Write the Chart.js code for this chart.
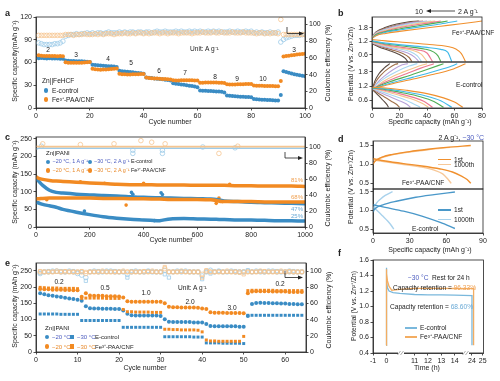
<!DOCTYPE html>
<html><head><meta charset="utf-8">
<script src="https://cdn.jsdelivr.net/npm/chart.js"></script>
<style>
html,body{margin:0;padding:0;background:#fff;}
body{width:500px;height:381px;position:relative;overflow:hidden;font-family:'Liberation Sans',Arial,sans-serif;color:#222;}
canvas{position:absolute;left:0;top:0;}
.t{position:absolute;white-space:nowrap;line-height:1;}
.m{position:absolute;}
svg{position:absolute;left:0;top:0;}
</style></head><body>
<script>
const FONT="'Liberation Sans', Arial, sans-serif";
const BLUE='#3a8cc4', ORANGE='#f28a22', LBLUE='#9ecbe8', LORANGE='#f6c590', TB='#4b5bbf';

// ---------- panel a : Zn||FeHCF rate test (cycles 1..100) ----------
const aCapE=[65.5,65.8,65.6,65.4,65.5,65.3,65.2,65.4,65.1,65.0,
62.5,62.3,62.1,62.0,61.8,61.6,61.5,61.3,61.0,60.6,
57.0,56.8,56.5,56.2,55.8,55.5,55.2,55.0,54.6,54.2,
49.0,48.5,48.2,47.8,47.5,47.0,46.6,46.2,45.8,45.2,
40.2,39.8,39.4,39.0,38.6,38.2,37.8,37.4,37.0,36.4,
32.6,32.0,31.5,31.0,30.5,30.0,29.5,29.0,28.3,27.5,
23.2,22.9,22.7,22.5,22.3,22.1,21.9,21.6,21.3,20.6,
16.6,16.1,15.8,15.5,15.3,15.0,14.8,14.6,14.4,14.2,
11.8,11.5,11.2,11.0,10.8,10.6,10.4,10.2,10.0,9.8,
17.0,48.5,47.4,46.4,45.5,44.6,43.8,43.1,42.5,42.0];
const aCapFe=[69.5,68.9,68.7,68.6,68.5,68.6,68.5,68.4,68.5,68.2,
60.2,59.8,59.7,59.6,59.6,59.7,59.8,60.0,60.2,60.5,
51.6,51.0,50.8,50.6,50.7,50.9,51.2,51.5,51.8,52.2,
45.2,44.6,44.4,44.3,44.3,44.4,44.5,44.6,44.8,45.0,
40.2,39.6,39.3,39.0,38.8,38.6,38.4,38.2,38.0,37.6,
36.6,36.4,36.4,36.5,36.6,36.7,36.6,36.5,36.4,36.2,
33.2,33.3,33.5,33.6,33.7,33.6,33.5,33.4,33.2,33.0,
31.3,31.0,31.0,31.1,31.2,31.3,31.4,31.5,31.6,31.7,
29.6,29.4,29.3,29.2,29.1,29.0,28.9,28.9,28.8,28.7,
35.6,67.8,68.5,69.0,69.5,70.0,70.4,70.8,71.1,71.4];
const aCEE=[78,77,76,76,76,76,77,77,78,80,
86,87,88,88,89,88,89,89,90,89,
90,89,90,90,89,90,91,90,90,90,
91,90,91,90,91,91,90,91,91,90,
91,91,90,91,92,91,91,92,91,91,
91,92,91,92,91,91,92,91,92,91,
92,91,91,92,91,92,91,92,91,91,
91,92,91,91,92,91,91,92,91,92,
90,91,90,91,90,90,91,90,90,91,
79,82,84,85,86,87,87,87,88,88];
const aCEFe=[87,87,87,87,87,87,87,87,87,87,
88,88,88,87,88,88,88,89,88,88,
88,89,88,89,88,89,89,89,88,89,
89,89,90,89,89,90,89,90,90,89,
90,89,90,90,90,89,90,90,89,90,
90,90,89,90,90,90,90,89,90,90,
90,91,90,90,90,91,90,90,91,90,
90,90,91,90,90,90,91,90,90,90,
90,89,90,90,89,90,89,90,90,89,
106,88,88,88,88,88,88,88,88,88];

// ---------- panel b : GCD curves, 2..10 A g-1 ----------
const bColors=['#f0902e','#3fb9e8','#4fae55','#ec7790','#f6c48c','#a6d6f0','#b6a1d8','#a0704a','#5a4a42'];
const bFeCharge=[
[[0,1.33],[3,1.45],[10,1.55],[20,1.64],[35,1.76],[50,1.87],[65,1.98],[80,2.1]],
[[0,1.33],[3,1.47],[10,1.6],[20,1.7],[35,1.84],[50,1.97],[62,2.1]],
[[0,1.34],[3,1.5],[10,1.63],[20,1.75],[35,1.9],[48,2.03],[55,2.1]],
[[0,1.35],[3,1.52],[10,1.66],[20,1.8],[35,1.96],[50,2.1]],
[[0,1.36],[3,1.54],[10,1.69],[20,1.84],[32,1.98],[46,2.1]],
[[0,1.37],[3,1.56],[10,1.72],[20,1.88],[30,2.0],[43,2.1]],
[[0,1.38],[3,1.58],[10,1.75],[20,1.92],[30,2.04],[40,2.1]],
[[0,1.39],[3,1.6],[10,1.78],[20,1.95],[28,2.05],[37,2.1]],
[[0,1.4],[3,1.62],[10,1.82],[18,1.97],[26,2.06],[34,2.1]]];
const bFeDis=[
[[0,1.28],[10,1.22],[25,1.15],[40,1.07],[55,0.97],[61,0.86],[65,0.65],[68,0.3]],
[[0,1.22],[10,1.12],[25,1.02],[40,0.93],[50,0.84],[55,0.72],[58,0.3]],
[[0,1.2],[10,1.08],[25,0.97],[38,0.86],[45,0.72],[48,0.55],[50,0.3]],
[[0,1.18],[10,1.04],[22,0.93],[33,0.82],[40,0.68],[44,0.3]],
[[0,1.16],[8,1.03],[18,0.92],[30,0.79],[36,0.62],[40,0.3]],
[[0,1.15],[8,1.0],[18,0.88],[28,0.74],[33,0.55],[36,0.3]],
[[0,1.13],[8,0.97],[17,0.84],[26,0.68],[31,0.5],[34,0.3]],
[[0,1.12],[6,0.97],[14,0.83],[22,0.67],[27,0.48],[29,0.3]],
[[0,1.1],[5,0.95],[12,0.8],[19,0.64],[24,0.45],[26,0.3]]];
const bEcCharge=[
[[0,1.05],[5,1.15],[15,1.3],[30,1.5],[45,1.7],[58,1.9],[68,2.15]],
[[0,1.05],[5,1.17],[15,1.35],[30,1.58],[45,1.82],[58,2.05],[62,2.15]],
[[0,1.04],[5,1.2],[15,1.42],[28,1.66],[40,1.9],[52,2.15]],
[[0,1.04],[5,1.23],[15,1.5],[25,1.72],[35,1.95],[45,2.15]],
[[0,1.03],[5,1.27],[12,1.52],[22,1.78],[32,2.0],[40,2.15]],
[[0,1.03],[4,1.3],[10,1.56],[18,1.82],[27,2.05],[33,2.15]],
[[0,1.02],[4,1.35],[9,1.62],[15,1.88],[22,2.1],[26,2.15]],
[[0,1.02],[3,1.4],[7,1.7],[12,1.95],[17,2.12],[19,2.15]],
[[0,1.0],[2,1.4],[5,1.72],[9,1.97],[13,2.15]]];
const bEcDis=[
[[0,1.15],[10,1.12],[25,1.02],[40,0.88],[52,0.7],[60,0.52],[66,0.3]],
[[0,1.13],[10,1.08],[25,0.95],[38,0.8],[50,0.58],[58,0.3]],
[[0,1.12],[10,1.05],[22,0.92],[35,0.75],[45,0.55],[52,0.3]],
[[0,1.12],[8,1.03],[20,0.88],[30,0.72],[38,0.55],[44,0.3]],
[[0,1.11],[8,1.0],[18,0.84],[28,0.67],[36,0.48],[41,0.3]],
[[0,1.1],[6,0.98],[14,0.82],[22,0.66],[29,0.48],[35,0.3]],
[[0,1.1],[5,0.95],[12,0.78],[19,0.6],[25,0.44],[28,0.3]],
[[0,1.08],[4,0.92],[9,0.74],[14,0.56],[18,0.42],[20,0.3]],
[[0,1.06],[3,0.9],[6,0.72],[9,0.54],[11,0.4],[12,0.3]]];

// ---------- panel c : long cycling Zn||PANI ----------
const cX=[1,10,25,50,75,100,150,200,250,300,350,400,450,460,500,550,600,650,670,690,700,750,800,850,900,950,1000];
const cFe20=[142,138,135,132,130,129,127,125,123,121,120,120,119,119,119,119,118,118,118,118,118,117,117,116,116,116,115];
const cEc20=[138,130,118,104,98,96,93,91,89,88,86,84,83,83,82,81,80,79,78,75,74,72,70,69,68,67,66];
const cFe30=[80,80,81,82,82,82,82,82,81,81,80,80,79,79,78,78,78,77,75,72,72,72,72,71,71,71,71];
const cEc30=[70,68,64,60,56,50,42,35,29,25,22,20,18,18,23,24,23,22,22,21,21,20,20,19,18,18,17];
const cCEFe=[101,100.5,100.5,100.5,100.5,100.5,100.5,100.5,100.5,100.5,100.5,100.5,100.5,100.5,100.5,100.5,100.5,100.5,100.5,100.5,100.5,100.5,100.5,100.5,100.5,100.5,100.5];
const cCEEc=[97,98.5,98.5,98.5,98.5,98.5,98.5,98.5,98.5,98.5,98.5,98.5,98.5,98.5,98.5,98.5,98.5,98.5,98.5,98.5,98.5,98.5,98.5,98.5,98.5,98.5,98.5];
const cOutE=[[180,45],[355,98],[360,93],[465,97],[470,92],[620,80],[440,18]];
const cOutFe=[[40,77],[165,128],[255,124],[335,62],[400,124],[670,67],[680,82],[720,121]];
const cCEOutE=[[20,101],[360,92],[360,96],[470,92],[470,96],[620,100],[740,99]];
const cCEOutFe=[[25,104],[165,103],[290,104],[390,108],[430,106],[480,104],[680,92],[750,101]];

// ---------- panel d : 1st / 1000th GCD at -30 C ----------
const dFe1stC=[[0,1.0],[1,1.06],[3,1.12],[8,1.2],[15,1.26],[30,1.34],[45,1.4],[60,1.45],[80,1.5]];
const dFe1stD=[[0,1.15],[10,1.09],[25,1.02],[40,0.96],[55,0.88],[65,0.8],[72,0.7],[77,0.6],[80,0.5]];
const dFe1000C=[[0,1.03],[2,1.1],[6,1.17],[15,1.25],[30,1.33],[45,1.39],[63,1.45]];
const dFe1000D=[[0,1.12],[10,1.07],[25,1.0],[40,0.93],[50,0.85],[57,0.75],[61,0.62],[64,0.5]];
const dEc1stC=[[0,0.95],[1,1.02],[3,1.08],[8,1.15],[20,1.25],[35,1.35],[50,1.42],[67,1.49]];
const dEc1stD=[[0,1.15],[10,1.08],[25,0.98],[40,0.85],[55,0.68],[67,0.52]];
const dEc1000C=[[0,0.97],[1,1.08],[3,1.2],[6,1.3],[10,1.4],[16,1.5]];
const dEc1000D=[[0,1.1],[4,0.98],[8,0.85],[12,0.72],[15,0.6],[17,0.5]];

// ---------- panel e : rate test at -20/-30 C (cycles 1..64) ----------
const eEc20=[181,178,175,173,171,169,167,165,163,161,
158,141,135,134,134,133,133,133,132,132,
128,118,113,112,112,112,112,112,112,111,
101,93,92,92,92,92,92,91,91,91,
86,80,79,79,79,79,79,79,78,78,
111,148,151,152,151,151,150,150,149,149,148,148,147,147];
const eEc30=[117,117,117,117,117,116,116,116,116,116,
97,97,97,97,97,97,97,97,97,97,
76,76,76,76,76,76,76,76,76,76,
47,47,47,47,47,47,47,46,46,46,
28,28,28,28,27,27,27,27,27,26,
113,113,113,113,113,113,113,113,113,113,113,113,113,113];
const eFe20=[194,193,193,192,192,192,191,191,190,190,
170,181,174,173,173,173,172,172,172,171,
168,156,155,155,155,155,155,155,155,155,
150,139,138,138,137,137,137,137,136,134,
132,122,121,121,121,120,120,120,120,119,
181,186,187,187,187,187,186,186,186,186,185,185,185,185];
const eFe30=[199,198,197,197,197,196,196,196,196,195,
165,166,166,166,166,166,165,165,165,165,
131,124,124,123,123,123,123,122,122,122,
70,70,69,69,68,68,68,68,67,62,
37,34,34,33,33,33,33,33,33,48,
189,190,190,190,190,190,190,189,189,189,189,189,189,189];
const eCEEc20=[97,99,99,100,100,99,99,100,99,97,
95,92,99,100,99,99,100,100,99,99,
99,96,99,100,99,99,100,99,99,99,
101,99,99,100,99,100,99,99,99,94,
99,101,99,100,99,99,100,99,99,99,
100,99,100,99,99,100,100,99,99,99,100,99,99,99];
const eCEEc30=[98,99,100,99,99,100,99,99,100,99,
99,88,99,99,100,99,99,99,100,99,
99,92,100,99,99,99,100,99,99,99,
96,92,99,99,100,99,99,99,99,90,
99,97,99,100,99,99,99,100,99,99,
101,99,99,100,99,99,99,100,99,99,99,100,99,99];
const eCEFe20=[99,99,99,99,100,99,99,99,99,99,
99,97,99,99,99,100,99,99,99,99,
100,99,99,99,99,99,99,100,99,99,
103,99,99,99,100,99,99,99,99,96,
100,99,99,99,99,100,99,99,99,99,
99,99,99,100,99,99,99,99,100,99,99,99,99,99];
const eCEFe30=[100,99,99,99,99,99,100,99,99,99,
100,99,99,99,99,99,99,99,99,99,
99,99,99,99,99,100,99,99,99,99,
105,99,99,99,99,99,99,99,99,92,
101,99,99,99,99,99,99,99,98,96,
99,99,99,99,100,99,99,99,99,99,100,99,99,99];

// ---------- panel f : 24 h rest (broken time axis) ----------
const fTimeFe=[0,0,0.02,0.08,0.2,0.4,0.7,1,11,12,13,14,24.15,24.15];
const fVFe=[0.5,1.48,1.42,1.33,1.26,1.21,1.215,1.22,1.233,1.233,1.233,1.232,1.23,0.5];
const fTimeE=[0,0,0.02,0.08,0.2,0.5,1,11,12,13,14,24,24];
const fVE=[0.5,1.5,1.32,1.24,1.2,1.18,1.17,1.155,1.15,1.15,1.148,1.14,0.5];
const fTickTimes=[-1,0,11,12,13,14,24,25];
// broken-axis mapping (time -> axis position)
const fBreakT=[-1,0,1,10.9,14.8,23.45,25], fBreakP=[0,1,2,3,6.9,6.95,8.19];
function fMap(t){for(let i=0;i<fBreakT.length-1;i++){if(t<=fBreakT[i+1])return fBreakP[i]+(t-fBreakT[i])*(fBreakP[i+1]-fBreakP[i])/(fBreakT[i+1]-fBreakT[i]);}return fBreakP[fBreakP.length-1];}

// ================= helpers =================
const body=document.body;
Chart.defaults.font.family=FONT;
function addCanvas(){const c=document.createElement('canvas');c.width=500;c.height=381;c.style.width='500px';c.style.height='381px';body.appendChild(c);return c;}
const frame={id:'frame',afterDraw(c){const a=c.chartArea,x=c.ctx;x.save();x.strokeStyle='#222';x.lineWidth=0.8;x.strokeRect(a.left,a.top,a.right-a.left,a.bottom-a.top);x.restore();}};
function axis(o,id,size){
  const isX=id==='x';
  return {type:'linear',position:isX?'bottom':(id==='y2'?'right':'left'),display:!o.hide,min:o.min,max:o.max,
    afterFit:s=>{if(isX)s.height=size;else s.width=size;},
    afterBuildTicks:s=>{s.ticks=(o.ticks||[]).map(v=>({value:v}));},
    ticks:{font:{family:FONT,size:7},color:'#222',padding:1.5,autoSkip:false,maxRotation:0,minRotation:0,
      callback:(v,i)=>o.labels?o.labels[i]:(o.dec!=null?Number(v).toFixed(o.dec):String(v))},
    grid:{drawOnChartArea:false,tickLength:2.5,color:'#222',tickColor:'#222',lineWidth:0.8},
    border:{display:true,color:'#222',width:0.8}};
}
function makeChart(rect,x,y,y2,datasets){
  const [L,T,R,B]=rect;const YW=19,Y2W=y2?19:0,XH=x.hide?0:12;
  const scales={x:axis(x,'x',XH),y:axis(y,'y',YW)};
  if(y2)scales.y2=axis(y2,'y2',Y2W);
  return new Chart(addCanvas(),{type:'line',data:{datasets},
    options:{responsive:false,animation:false,devicePixelRatio:1,events:[],
      layout:{padding:{left:L-YW,right:500-R-Y2W,top:T,bottom:381-B-XH}},
      plugins:{legend:{display:false},tooltip:{enabled:false}},scales},plugins:[frame]});
}
const seq=arr=>arr.map((v,i)=>({x:i+1,y:v}));
const zipXY=(xs,ys)=>xs.map((x,i)=>({x,y:ys[i]}));
function dots(data,color,o){return Object.assign({data,showLine:false,pointRadius:2,pointBackgroundColor:color,pointBorderColor:color,pointBorderWidth:0,borderColor:color,backgroundColor:color,yAxisID:'y'},o||{});}
function rings(data,color,o){return Object.assign({data,showLine:false,pointRadius:2.3,pointBackgroundColor:'rgba(255,255,255,0)',pointBorderColor:color,pointBorderWidth:0.8,borderColor:color,yAxisID:'y2'},o||{});}
function curve(data,color,w,o){return Object.assign({data,borderColor:color,borderWidth:w||1.1,pointRadius:0,cubicInterpolationMode:'monotone',yAxisID:'y'},o||{});}

// ================= charts =================
// a
makeChart([36,17,305,108],{min:0,max:100,ticks:[0,20,40,60,80,100]},{min:0,max:120,ticks:[0,30,60,90,120]},{min:0,max:109,ticks:[0,20,40,60,80,100]},[
  dots(seq(aCapFe),ORANGE),dots(seq(aCapE),BLUE),
  rings(seq(aCEFe),LORANGE),rings(seq(aCEE),LBLUE)]);
// b top / bottom
makeChart([372,17,482,62],{min:0,max:80,hide:true},{min:0.28,max:2.28,ticks:[0.6,1.2,1.8],dec:1},null,
  bFeDis.map((c,i)=>curve(c,bColors[i])).concat(bFeCharge.map((c,i)=>curve(c,bColors[i]))));
makeChart([372,62,482,108],{min:0,max:80,ticks:[0,20,40,60,80]},{min:0.27,max:2.22,ticks:[0.6,1.2,1.8],dec:1},null,
  bEcDis.map((c,i)=>curve(c,bColors[i])).concat(bEcCharge.map((c,i)=>curve(c,bColors[i]))));
// c
makeChart([36,137,305,227],{min:0,max:1000,ticks:[0,200,400,600,800,1000]},{min:0,max:255,ticks:[0,50,100,150,200,250]},{min:0,max:112.5,ticks:[0,20,40,60,80,100]},[
  curve(zipXY(cX,cFe20),ORANGE,3.5,{cubicInterpolationMode:'default',tension:0.3}),
  curve(zipXY(cX,cFe30),ORANGE,3.5,{cubicInterpolationMode:'default',tension:0.3}),
  curve(zipXY(cX,cEc20),BLUE,3.5,{cubicInterpolationMode:'default',tension:0.3}),
  curve(zipXY(cX,cEc30),BLUE,3.5,{cubicInterpolationMode:'default',tension:0.3}),
  dots(cOutFe.map(p=>({x:p[0],y:p[1]})),ORANGE,{pointRadius:1.8}),
  dots(cOutE.map(p=>({x:p[0],y:p[1]})),BLUE,{pointRadius:1.8}),
  curve(zipXY(cX,cCEFe),LORANGE,1.6,{yAxisID:'y2'}),
  curve(zipXY(cX,cCEEc),LBLUE,1.6,{yAxisID:'y2'}),
  rings(cCEOutFe.map(p=>({x:p[0],y:p[1]})),LORANGE),
  rings(cCEOutE.map(p=>({x:p[0],y:p[1]})),LBLUE)]);
// d top / bottom
makeChart([373,141,483,189],{min:0,max:90,hide:true},{min:0.35,max:1.62,ticks:[0.5,1.0,1.5],dec:1},null,[
  curve(dFe1stC,'#f0902e',1.4),curve(dFe1stD,'#f0902e',1.4),
  curve(dFe1000C,'#f7c898',1.4),curve(dFe1000D,'#f7c898',1.4)]);
makeChart([373,189,483,233],{min:0,max:90,ticks:[0,30,60,90]},{min:0.40,max:1.57,ticks:[0.5,1.0,1.5],dec:1},null,[
  curve(dEc1stC,'#4a98c9',1.4),curve(dEc1stD,'#4a98c9',1.4),
  curve(dEc1000C,'#a9d2ec',1.4),curve(dEc1000D,'#a9d2ec',1.4)]);
// e
makeChart([36,263,306,352],{min:0,max:65,ticks:[0,10,20,30,40,50,60]},{min:0,max:274,ticks:[0,50,100,150,200,250]},{min:0,max:110,ticks:[0,20,40,60,80,100]},[
  dots(seq(eFe20),ORANGE),dots(seq(eFe30),ORANGE,{pointStyle:'rect',pointRadius:2.1}),
  dots(seq(eEc20),BLUE),dots(seq(eEc30),BLUE,{pointStyle:'rect',pointRadius:2.1}),
  rings(seq(eCEFe20),LORANGE),rings(seq(eCEFe30),LORANGE,{pointStyle:'rect'}),
  rings(seq(eCEEc20),LBLUE),rings(seq(eCEEc30),LBLUE,{pointStyle:'rect'})]);
// f
makeChart([373,260,483.5,353],{min:0,max:8.25,ticks:fTickTimes.map(fMap),labels:fTickTimes.map(String)},{min:0.4,max:1.6,ticks:[0.4,0.6,0.8,1.0,1.2,1.4,1.6],dec:1},null,[
  curve(fTimeFe.map((t,i)=>({x:fMap(t),y:fVFe[i]})),'#f3ad62',1.3,{cubicInterpolationMode:'default',tension:0}),
  curve(fTimeE.map((t,i)=>({x:fMap(t),y:fVE[i]})),'#7ab8dc',1.3,{cubicInterpolationMode:'default',tension:0})]);

// ================= text & annotations =================
function T(x,y,html,o){o=o||{};const d=document.createElement('div');d.className='t';d.innerHTML=html;
  d.style.left=x+'px';d.style.top=y+'px';d.style.fontSize=(o.fs||6.6)+'px';
  if(o.b)d.style.fontWeight='bold';if(o.c)d.style.color=o.c;
  let tr=o.a==='c'?'translate(-50%,-50%)':o.a==='r'?'translate(-100%,-50%)':'translate(0,-50%)';
  if(o.rot)tr+=' rotate('+o.rot+'deg)';d.style.transform=tr;body.appendChild(d);return d;}
function M(x,y,color,sq){const d=document.createElement('div');d.className='m';
  d.style.cssText+='left:'+(x-2.1)+'px;top:'+(y-2.1)+'px;width:4.2px;height:4.2px;background:'+color+';border-radius:'+(sq?'0':'50%');body.appendChild(d);}
function Ln(x1,x2,y,color){const d=document.createElement('div');d.className='m';
  d.style.cssText+='left:'+x1+'px;top:'+(y-0.75)+'px;width:'+(x2-x1)+'px;height:1.5px;background:'+color;body.appendChild(d);}
const sp=(s,c)=>'<span style="color:'+c+'">'+s+'</span>';

// letters
[['a',5,13],['b',338,13],['c',5,137],['d',338,139],['e',5,263],['f',338,253]].forEach(l=>T(l[1],l[2],l[0],{fs:9,b:true}));
// axis titles
const YT='Specific capacity (mAh g⁻¹)', PT='Potential (V vs. Zn²⁺/Zn)', CT='Coulombic efficiency (%)';
T(14,61,'Specific capacity(mAh g⁻¹)',{a:'c',rot:-90,fs:7});
T(327,63,CT,{a:'c',rot:-90,fs:7});
T(170,121,'Cycle number',{a:'c',fs:7});
T(350,64,PT,{a:'c',rot:-90,fs:7});
T(430,121,YT,{a:'c',fs:7});
T(14,182,YT,{a:'c',rot:-90,fs:7});
T(327,188,CT,{a:'c',rot:-90,fs:7});
T(171,239,'Cycle number',{a:'c',fs:7});
T(350,187,PT,{a:'c',rot:-90,fs:7});
T(430,249,YT,{a:'c',fs:7});
T(14,306,YT,{a:'c',rot:-90,fs:7});
T(328,310,CT,{a:'c',rot:-90,fs:7});
T(145,367,'Cycle number',{a:'c',fs:7});
T(354,306,PT,{a:'c',rot:-90,fs:6.6});
T(427,367,'Time (h)',{a:'c',fs:7});

// a annotations
T(42,81,'Zn||FeHCF');
M(46,90.5,BLUE);T(52,90.5,'E-control');
M(46,99.5,ORANGE);T(52,99.5,'Fe³⁺-PAA/CNF');
[['2',48,50],['3',76,54.5],['4',108,59],['5',131,62.5],['6',159,70.5],['7',185,73],['8',215,77],['9',237,79],['10',263,79],['3',294,50]].forEach(l=>T(l[1],l[2],l[0],{a:'c'}));
T(190,49,'Unit: A g⁻¹');
// b annotations
T(419,11,'10',{a:'c',fs:7});T(458,11,'2 A g⁻¹',{fs:7});
T(452,33,'Fe³⁺-PAA/CNF');T(456,85,'E-control');
// c annotations
T(46,153,'Zn||PANI',{fs:6});
M(48,162,BLUE);T(52.5,162,sp('−20 °C, 1 A g⁻¹',TB),{fs:5.4});M(90,162,BLUE);T(94,162,sp('−30 °C, 2 A g⁻¹',TB)+' E-control',{fs:5.4});
M(48,170.5,ORANGE);T(52.5,170.5,sp('−20 °C, 1 A g⁻¹','#e8892a'),{fs:5.4});M(90,170.5,ORANGE);T(94,170.5,sp('−30 °C, 2 A g⁻¹','#e8892a')+' Fe³⁺-PAA/CNF',{fs:5.4});
T(303,180,'81%',{a:'r',c:'#f0a050',fs:6});T(303,196.5,'68%',{a:'r',c:'#f0a050',fs:6});
T(303,208.5,'47%',{a:'r',c:'#6aaad6',fs:6});T(303,215.5,'25%',{a:'r',c:'#6aaad6',fs:6});
// d annotations
T(484,137,'2 A g⁻¹, '+sp('−30 °C',TB),{a:'r',fs:7});
Ln(438,451,159.5,'#f0902e');T(454,159.5,'1st');Ln(438,451,164.5,'#f7c898');T(454,164.5,'1000th');
Ln(438,451,210,'#4a98c9');T(454,210,'1st');Ln(438,451,219.5,'#a9d2ec');T(454,219.5,'1000th');
T(402,182.5,'Fe³⁺-PAA/CNF');T(412,228.5,'E-control');
// e annotations
T(45,328,'Zn||PANI',{fs:6.2});
M(47,337.3,BLUE);T(52,337.3,sp('−20 °C',TB),{fs:6});M(72,337.3,BLUE,true);T(77,337.3,sp('−30 °C',TB),{fs:6});T(95,337.3,'E-control',{fs:6});
M(47,346.5,ORANGE);T(52,346.5,sp('−20 °C','#e8892a'),{fs:6});M(72,346.5,ORANGE,true);T(77,346.5,sp('−30 °C','#e8892a'),{fs:6});T(95,346.5,'Fe³⁺-PAA/CNF',{fs:6});
[['0.2',59,282],['0.5',105,288.3],['1.0',146,293.3],['2.0',190,301.7],['3.0',232,307.5],['0.2',280,284]].forEach(l=>T(l[1],l[2],l[0],{a:'c'}));
T(178,288.3,'Unit: A g⁻¹');
// f annotations
T(408,278,sp('−30 °C',TB));T(432,278,'Rest for 24 h');
T(393,287.5,'Capacity retention = '+sp('96.33%','#f0a050'));
T(390,306.7,'Capacity retention = '+sp('68.60%','#6aaad6'));
Ln(405,417,328,'#7ab8dc');T(420,328,'E-control');
Ln(405,417,337,'#f3ad62');T(420,337,'Fe³⁺-PAA/CNF');

// arrows & axis-break marks
const s=document.createElementNS('http://www.w3.org/2000/svg','svg');
s.setAttribute('width','500');s.setAttribute('height','381');
s.innerHTML='<g fill="none" stroke="#222" stroke-width="0.8">'+
 '<polyline points="287,27 287,33.5 300,33.5"/><polyline points="285,152 285,158 299,158"/><polyline points="285,271 285,277.5 299,277.5"/>'+
 '<line x1="430" y1="11" x2="455" y2="11"/></g>'+
 '<g fill="#222"><polygon points="304,33.5 299,31.6 299,35.4"/><polygon points="303,158 298,156.1 298,159.9"/><polygon points="303,277.5 298,275.6 298,279.4"/><polygon points="426,11 431,9.1 431,12.9"/></g>'+
 '<rect x="398" y="350" width="6" height="6" fill="#fff"/><rect x="463" y="350" width="6" height="6" fill="#fff"/>'+
 '<g stroke="#888" stroke-width="0.7"><line x1="397.5" y1="355" x2="400.5" y2="351"/><line x1="400.5" y1="355" x2="403.5" y2="351"/>'+
 '<line x1="462.5" y1="355" x2="465.5" y2="351"/><line x1="465.5" y1="355" x2="468.5" y2="351"/></g>';
body.appendChild(s);
</script>
</body></html>
